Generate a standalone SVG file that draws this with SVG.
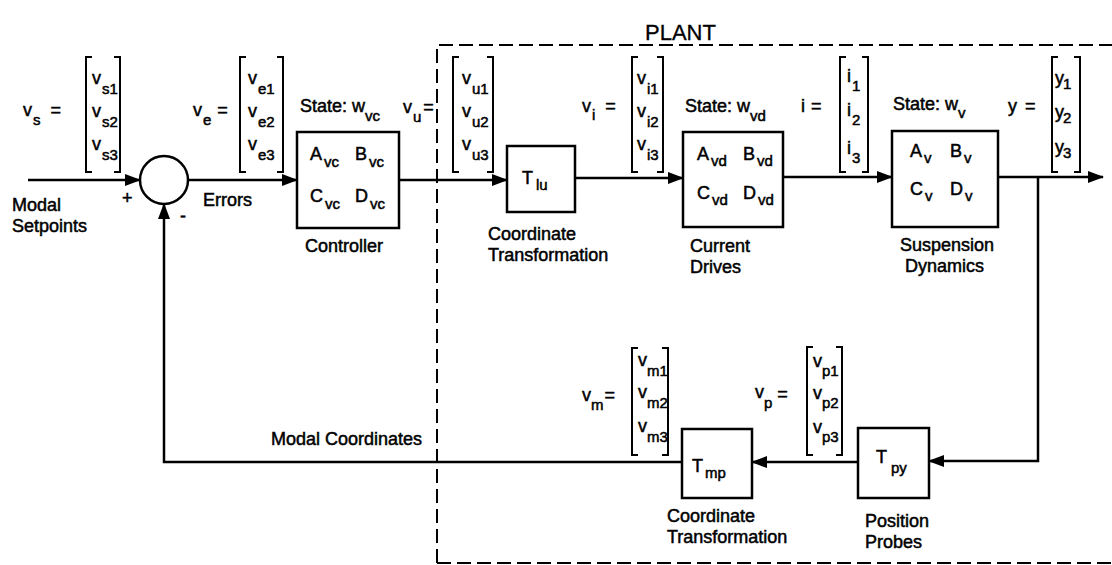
<svg xmlns="http://www.w3.org/2000/svg" width="1112" height="565" viewBox="0 0 1112 565">
<style>
text{font-family:"Liberation Sans",Arial,sans-serif;font-size:18px;fill:#000;stroke:#000;stroke-width:0.5}
.sub{font-size:15px}
.big{font-size:22px;stroke-width:0.3}
.box{fill:#fff;stroke:#000;stroke-width:2.5}
.br{fill:none;stroke:#000;stroke-width:2}
.ln{fill:none;stroke:#000;stroke-width:2.5}
.dash{fill:none;stroke:#000;stroke-width:2;stroke-dasharray:14 6}
</style>
<defs>
<marker id="ah" markerUnits="userSpaceOnUse" markerWidth="16" markerHeight="12" refX="15" refY="6" orient="auto">
<path d="M0,0 L16,6 L0,12 z" fill="#000"/>
</marker>
</defs>
<rect width="1112" height="565" fill="#fff"/>

<g id="plant">
<path class="dash" d="M437,563 V45 H1112"/>
<path class="dash" d="M437,563 H1112"/>
<text class="big" x="645" y="40">PLANT</text>
</g>

<g id="connectors">
<path class="ln" d="M28,180 H140" marker-end="url(#ah)"/>
<path class="ln" d="M188,180 H297" marker-end="url(#ah)"/>
<path class="ln" d="M399,180 H507" marker-end="url(#ah)"/>
<path class="ln" d="M575,178 H683" marker-end="url(#ah)"/>
<path class="ln" d="M783,177 H892" marker-end="url(#ah)"/>
<path class="ln" d="M998,177 H1103" marker-end="url(#ah)"/>
<path class="ln" d="M1038,177 V461 H929" marker-end="url(#ah)"/>
<path class="ln" d="M858,462 H752" marker-end="url(#ah)"/>
<path class="ln" d="M682,462 H164 V204" marker-end="url(#ah)"/>
</g>

<g id="sum">
<circle cx="164" cy="180" r="24" fill="#fff" stroke="#000" stroke-width="2.5"/>
<text x="122" y="204">+</text>
<text x="180" y="222">-</text>
</g>

<g id="setpoints">
<text x="12" y="211">Modal</text>
<text x="12" y="232">Setpoints</text>
<text x="23" y="116">v<tspan class="sub" dx="1" dy="9">s</tspan><tspan dx="10" dy="-9">=</tspan></text>
<path class="br" d="M92,57 H86 V172 H92 M114,57 H120 V172 H114"/>
<text x="92" y="84">v<tspan class="sub" dx="1" dy="10">s1</tspan></text>
<text x="92" y="117">v<tspan class="sub" dx="1" dy="10">s2</tspan></text>
<text x="92" y="150">v<tspan class="sub" dx="1" dy="10">s3</tspan></text>
</g>

<g id="errors">
<text x="203" y="206">Errors</text>
<text x="193" y="116">v<tspan class="sub" dx="1" dy="9">e</tspan><tspan dx="6" dy="-9">=</tspan></text>
<path class="br" d="M246,57 H240 V172 H246 M277,57 H283 V172 H277"/>
<text x="248" y="84">v<tspan class="sub" dx="1" dy="10">e1</tspan></text>
<text x="248" y="117">v<tspan class="sub" dx="1" dy="10">e2</tspan></text>
<text x="248" y="150">v<tspan class="sub" dx="1" dy="10">e3</tspan></text>
</g>

<g id="controller">
<text x="300" y="112">State: w<tspan class="sub" dy="9">vc</tspan></text>
<rect class="box" x="297" y="132" width="102" height="96"/>
<text x="310" y="160">A<tspan class="sub" dx="2" dy="7">vc</tspan></text>
<text x="355" y="160">B<tspan class="sub" dx="2" dy="7">vc</tspan></text>
<text x="310" y="202">C<tspan class="sub" dx="2" dy="7">vc</tspan></text>
<text x="355" y="202">D<tspan class="sub" dx="2" dy="7">vc</tspan></text>
<text x="305" y="252">Controller</text>
</g>

<g id="vu">
<text x="403" y="113">v<tspan class="sub" dx="1" dy="9">u</tspan><tspan dx="2" dy="-9">=</tspan></text>
<path class="br" d="M459,57 H453 V172 H459 M487,57 H493 V172 H487"/>
<text x="462" y="84">v<tspan class="sub" dx="1" dy="10">u1</tspan></text>
<text x="462" y="117">v<tspan class="sub" dx="1" dy="10">u2</tspan></text>
<text x="462" y="150">v<tspan class="sub" dx="1" dy="10">u3</tspan></text>
</g>

<g id="tlu">
<rect class="box" x="507" y="146" width="68" height="66"/>
<text x="522" y="184">T<tspan class="sub" dx="3" dy="6">lu</tspan></text>
<text x="488" y="240">Coordinate</text>
<text x="488" y="261">Transformation</text>
</g>

<g id="vi">
<text x="582" y="112">v<tspan class="sub" dx="1" dy="8">i</tspan><tspan dx="10" dy="-8">=</tspan></text>
<path class="br" d="M638,57 H632 V172 H638 M657,57 H663 V172 H657"/>
<text x="637" y="84">v<tspan class="sub" dx="1" dy="10">i1</tspan></text>
<text x="637" y="117">v<tspan class="sub" dx="1" dy="10">i2</tspan></text>
<text x="637" y="150">v<tspan class="sub" dx="1" dy="10">i3</tspan></text>
</g>

<g id="drives">
<text x="685" y="112">State: w<tspan class="sub" dy="9">vd</tspan></text>
<rect class="box" x="683" y="132" width="100" height="95"/>
<text x="697" y="160">A<tspan class="sub" dx="2" dy="6">vd</tspan></text>
<text x="743" y="160">B<tspan class="sub" dx="2" dy="6">vd</tspan></text>
<text x="697" y="199">C<tspan class="sub" dx="2" dy="6">vd</tspan></text>
<text x="743" y="199">D<tspan class="sub" dx="2" dy="6">vd</tspan></text>
<text x="690" y="252">Current</text>
<text x="690" y="273">Drives</text>
</g>

<g id="icur">
<text x="801" y="112">i<tspan dx="6">=</tspan></text>
<path class="br" d="M846,57 H840 V172 H846 M862,57 H868 V172 H862"/>
<text x="847" y="82">i<tspan class="sub" dx="1" dy="9">1</tspan></text>
<text x="847" y="116">i<tspan class="sub" dx="1" dy="9">2</tspan></text>
<text x="847" y="154">i<tspan class="sub" dx="1" dy="9">3</tspan></text>
</g>

<g id="suspension">
<text x="893" y="110">State: w<tspan class="sub" dy="8">v</tspan></text>
<rect class="box" x="892" y="131" width="106" height="96"/>
<text x="910" y="157">A<tspan class="sub" dx="2" dy="6">v</tspan></text>
<text x="950" y="157">B<tspan class="sub" dx="2" dy="6">v</tspan></text>
<text x="910" y="195">C<tspan class="sub" dx="2" dy="6">v</tspan></text>
<text x="950" y="195">D<tspan class="sub" dx="2" dy="6">v</tspan></text>
<text x="900" y="251">Suspension</text>
<text x="905" y="272">Dynamics</text>
</g>

<g id="yout">
<text x="1008" y="112">y<tspan dx="8">=</tspan></text>
<path class="br" d="M1058,57 H1052 V172 H1058 M1074,57 H1080 V172 H1074"/>
<text x="1055" y="84">y<tspan class="sub" dx="-1" dy="5">1</tspan></text>
<text x="1055" y="118">y<tspan class="sub" dx="-1" dy="5">2</tspan></text>
<text x="1055" y="153">y<tspan class="sub" dx="-1" dy="5">3</tspan></text>
</g>

<g id="tpy">
<rect class="box" x="858" y="428" width="71" height="70"/>
<text x="876" y="463">T<tspan class="sub" dx="4" dy="10">py</tspan></text>
<text x="865" y="527">Position</text>
<text x="865" y="548">Probes</text>
</g>

<g id="vp">
<text x="755" y="398">v<tspan class="sub" dx="0" dy="10">p</tspan><tspan dx="5" dy="-8">=</tspan></text>
<path class="br" d="M813,347 H807 V455 H813 M836,347 H842 V455 H836"/>
<text x="813" y="367">v<tspan class="sub" dx="0" dy="9">p1</tspan></text>
<text x="813" y="399">v<tspan class="sub" dx="0" dy="9">p2</tspan></text>
<text x="813" y="433">v<tspan class="sub" dx="0" dy="9">p3</tspan></text>
</g>

<g id="tmp">
<rect class="box" x="682" y="429" width="70" height="69"/>
<text x="692" y="472">T<tspan class="sub" dx="2" dy="6">mp</tspan></text>
<text x="667" y="522">Coordinate</text>
<text x="667" y="543">Transformation</text>
</g>

<g id="vm">
<text x="582" y="401">v<tspan class="sub" dx="0" dy="9">m</tspan><tspan dx="1" dy="-9">=</tspan></text>
<path class="br" d="M638,348 H632 V455 H638 M662,348 H668 V455 H662"/>
<text x="638" y="366">v<tspan class="sub" dx="0" dy="10">m1</tspan></text>
<text x="638" y="398">v<tspan class="sub" dx="0" dy="10">m2</tspan></text>
<text x="638" y="432">v<tspan class="sub" dx="0" dy="10">m3</tspan></text>
<text x="422" y="445" text-anchor="end">Modal Coordinates</text>
</g>
</svg>
